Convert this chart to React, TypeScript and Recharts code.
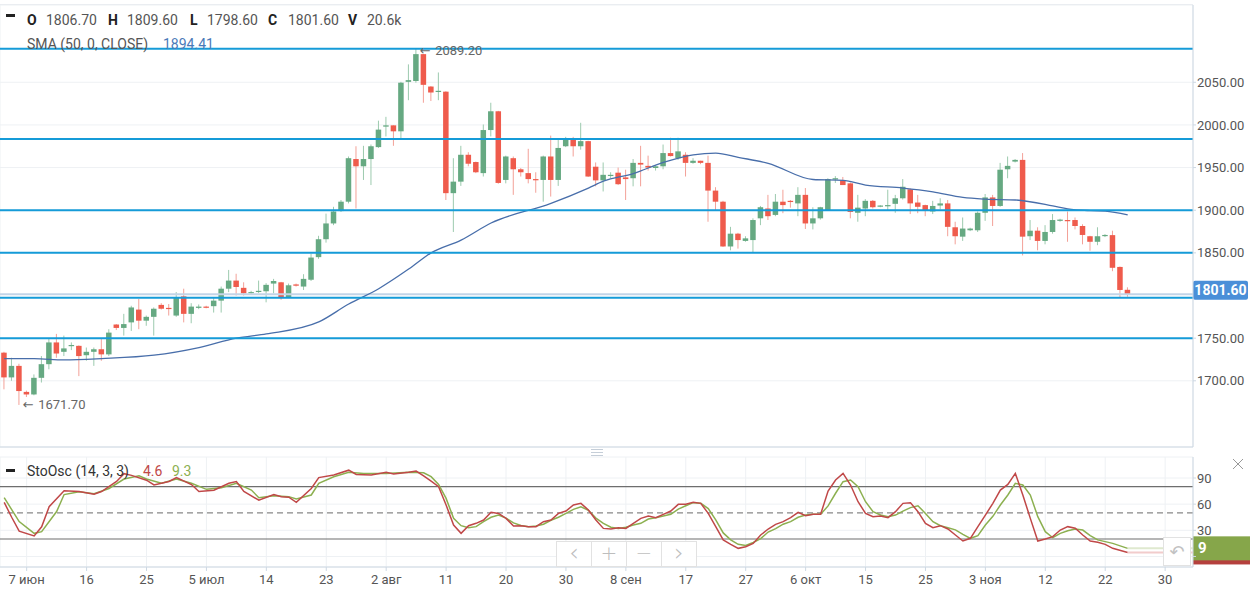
import React from 'react';
import { ComposedChart, Bar, Line, XAxis, YAxis, CartesianGrid, ReferenceLine, ReferenceDot } from 'recharts';

// ---------- data ----------
const opens = [
  1733, 1704, 1717.5, 1687, 1684, 1703.5, 1719.5, 1745, 1734, 1741,
  1741, 1730, 1734, 1737, 1731, 1766, 1762, 1768.5, 1783.5, 1770.5,
  1775, 1789, 1785.5, 1776.5, 1799, 1778.5, 1785.5, 1787, 1787.5, 1794,
  1808, 1817.5, 1809, 1803, 1804.5, 1805, 1814, 1815.5, 1798, 1813,
  1810.5, 1818.5, 1845, 1866, 1884.5, 1899, 1910, 1960, 1951.5, 1960,
  1974, 1998, 1999.5, 1992.5, 2050.5, 2051.5, 2083, 2045, 2039, 2039,
  1920, 1933.5, 1965, 1956.5, 1943.5, 1994, 2016, 1935.5, 1961, 1948,
  1943.5, 1936.5, 1935.5, 1963, 1935.5, 1975, 1984.5, 1975, 1981, 1951,
  1935, 1940.5, 1944, 1938.5, 1937.5, 1955.5, 1952, 1949.5, 1951.5, 1967,
  1961, 1965, 1955.5, 1958, 1955.5, 1923, 1910, 1857.5, 1872.5, 1864,
  1865, 1890.5, 1902, 1894.5, 1910, 1911, 1908, 1918, 1884.5, 1890.5,
  1900, 1936, 1935, 1931.5, 1897, 1902, 1911, 1905, 1905, 1907.5,
  1914, 1924.5, 1909, 1906, 1898.5, 1905.5, 1908, 1880, 1869, 1876.5,
  1876.5, 1897, 1915, 1905, 1948, 1957, 1959, 1869.5, 1876, 1864,
  1874.5, 1887.5, 1888.5, 1888.5, 1881.5, 1869.5, 1863, 1870.5, 1870.8, 1833.5,
  1806.7,
];
const highs = [
  1734, 1727, 1720, 1688.5, 1707.5, 1729, 1749, 1755, 1753, 1745,
  1741.5, 1739, 1739, 1749, 1760.5, 1766.5, 1778.5, 1788, 1796, 1776.5,
  1786, 1791, 1790, 1804, 1808, 1791, 1789.5, 1788, 1798, 1810.5,
  1830, 1825.5, 1815.5, 1805.5, 1817.5, 1814.5, 1819.5, 1816, 1814, 1814,
  1825, 1849, 1870, 1896, 1904, 1912, 1963, 1975, 1975.5, 1977,
  2005, 2009.5, 1999.5, 2050.5, 2071, 2089.2, 2083.5, 2045.5, 2061.5, 2039.5,
  1961, 1975.5, 1968, 1957, 2000.5, 2026, 2016.5, 1964, 1963, 1949.5,
  1972, 1944.5, 1964, 1987.5, 1983.5, 1986, 1986, 2002.5, 1981.5, 1956,
  1956, 1944.5, 1950, 1947.5, 1960, 1975.5, 1964, 1952, 1977, 1985,
  1985, 1968, 1961, 1958, 1964, 1927, 1911, 1880.5, 1873.5, 1869.5,
  1890.5, 1905, 1918, 1919, 1924, 1912, 1927, 1926, 1903.5, 1904,
  1937.5, 1940, 1939, 1932.5, 1918, 1913, 1912, 1906, 1924, 1918,
  1936.5, 1925.5, 1918, 1906.5, 1911, 1914, 1912, 1886.5, 1891.5, 1879.5,
  1898.5, 1919, 1918, 1955.5, 1963, 1960, 1967, 1888.5, 1880, 1882.5,
  1895.5, 1890, 1898.5, 1891.5, 1883.5, 1870, 1880, 1872, 1876, 1834,
  1809.6,
];
const lows = [
  1690, 1700, 1671.7, 1681, 1683, 1698, 1713.5, 1727, 1729, 1736,
  1705.5, 1723.5, 1717.5, 1723.5, 1729, 1759.5, 1753, 1758.5, 1760.5, 1764.5,
  1753, 1783.5, 1776.5, 1775, 1768.5, 1767.5, 1784, 1785, 1780, 1780,
  1804, 1800, 1800, 1801, 1803, 1792, 1802.5, 1795, 1797, 1810.5,
  1806.5, 1817, 1843, 1862, 1882.5, 1898, 1908, 1902, 1935.5, 1929.5,
  1973, 1986.5, 1975.5, 1984.5, 2029, 2049.5, 2026, 2028, 2029, 1912,
  1874.5, 1928.5, 1951.5, 1943.5, 1939.5, 1986.5, 1931, 1931.5, 1918, 1939.5,
  1931.5, 1920.5, 1910, 1916, 1928.5, 1974, 1963, 1971, 1939, 1928,
  1922, 1937.5, 1929.5, 1912, 1928, 1928, 1946.5, 1946.5, 1948, 1963,
  1959, 1939.5, 1954.5, 1954, 1886.5, 1900, 1857, 1853, 1855, 1863,
  1851, 1882.5, 1888.5, 1893, 1896.5, 1903, 1893, 1878, 1877.5, 1889,
  1899.5, 1932, 1929.5, 1890.5, 1886.5, 1893, 1902, 1903.5, 1899.5, 1897,
  1912.5, 1895.5, 1896.5, 1893, 1895.5, 1901, 1869.5, 1860, 1864, 1875.5,
  1874.5, 1887.5, 1881.5, 1904, 1937.5, 1956, 1847, 1865, 1853, 1860,
  1872.5, 1886.5, 1863, 1877.5, 1860, 1852.5, 1859, 1868.5, 1828.5, 1798,
  1798.6,
];
const closes = [
  1704, 1717.5, 1688, 1684, 1703.5, 1719.5, 1745, 1732, 1738, 1742,
  1729, 1734, 1737, 1731, 1756.5, 1762, 1766.5, 1786, 1770.5, 1775,
  1784.5, 1784.5, 1784.5, 1798, 1778.5, 1787, 1787, 1786, 1794, 1808,
  1817.5, 1810, 1802.5, 1804, 1805.5, 1812.5, 1817, 1797, 1812, 1811.5,
  1819.5, 1844.5, 1866, 1884.5, 1898.5, 1910, 1961, 1951.5, 1960, 1975,
  1994.5, 1999.5, 1992.5, 2049.5, 2052.5, 2083, 2047, 2038, 2040, 1920,
  1933.5, 1965, 1954.5, 1944.5, 1994, 2016, 1932, 1963, 1948, 1944.5,
  1936.5, 1935.5, 1963, 1935.5, 1973, 1984.5, 1975, 1981, 1939.5, 1935,
  1941.5, 1941.5, 1930.5, 1936.5, 1955.5, 1953.5, 1950, 1951.5, 1967, 1963.5,
  1969, 1955.5, 1958, 1955.5, 1923, 1910, 1857.5, 1872.5, 1865, 1867,
  1888.5, 1903.5, 1893, 1910, 1906, 1910, 1918, 1884.5, 1890.5, 1903.5,
  1936.5, 1937.5, 1929.5, 1898, 1903, 1911, 1903.5, 1905.5, 1906, 1914,
  1927.5, 1908, 1904, 1899.5, 1905, 1908, 1880.5, 1869.5, 1878.5, 1878.5,
  1897, 1915, 1905, 1947.5, 1952, 1959, 1869, 1876, 1864, 1874.5,
  1888.5, 1889, 1887.5, 1881.5, 1871, 1863, 1869.5, 1871, 1832.5, 1806.5,
  1801.6,
];

// SMA(50) read at candle indices
const smaPoints: [number, number][] = [
  [0, 1726], [4, 1726], [8, 1724.5], [13, 1726], [20, 1730], [26, 1739], [31, 1750], [35, 1755],
  [42, 1769], [46, 1790], [50, 1808], [54, 1831], [57, 1850], [61, 1865], [65, 1885], [73, 1908],
  [78, 1926], [80, 1934], [84, 1943], [88, 1956], [92, 1965], [95, 1967], [98, 1962], [102, 1955],
  [108, 1936], [112, 1935], [115, 1929.5], [120, 1926], [124, 1921.5], [128, 1915], [131, 1913],
  [135, 1912], [140, 1905], [142, 1901.5], [145, 1899.5], [147, 1899], [150, 1894.41],
];

// Stochastic %K (red) and %D (green)
const stochK: [number, number][] = [
  [0, 62], [1, 45], [2, 29], [4, 23.5], [5, 34], [6, 57], [8, 75.5], [10, 74.5], [12, 71.5], [13, 74.5],
  [15, 86], [16, 95], [17, 93], [19, 87.5], [20, 82], [22, 86], [23, 90.5], [25, 82.5], [26, 74.5], [28, 76],
  [30, 84], [31, 86], [32, 74.5], [34, 64.5], [36, 71], [37, 68.5], [38, 68], [39, 62], [41, 78], [42, 90.5],
  [44, 93.5], [46, 99], [47, 94], [49, 93.5], [51, 96.5], [52, 94.5], [54, 96.5], [55, 98], [56, 92.5], [57, 86.5],
  [58, 80], [59, 59], [60, 36], [61, 26.5], [62, 35.3], [63, 38], [64, 41.8], [65, 50.6], [66, 49.4], [67, 43.7],
  [68, 34.9], [69, 35.3], [70, 34.2], [71, 34.2], [72, 39.9], [73, 41.8], [74, 49.4], [75, 52.1], [76, 59], [77, 60.9],
  [78, 53.3], [79, 41.8], [80, 32.2], [81, 31.5], [82, 33], [83, 32.2], [84, 38], [85, 43.7], [86, 46.4], [87, 44.5],
  [88, 48.3], [89, 52.1], [90, 59.8], [91, 59.8], [92, 62.1], [93, 60.9], [94, 49.4], [95, 34.2], [96, 18.9], [97, 13.9],
  [98, 9.3], [99, 11.2], [100, 15], [101, 24.6], [102, 31.5], [103, 36.8], [104, 39.9], [105, 44.5], [106, 50.6], [107, 46.8],
  [108, 48.3], [109, 48.3], [110, 75], [111, 87.7], [112, 95.3], [113, 81.9], [114, 62.8], [115, 49.4], [116, 45.6], [117, 46.4],
  [118, 44.5], [119, 51.4], [120, 60.9], [121, 61.7], [122, 51.4], [123, 38], [124, 33], [125, 35.3], [126, 31.5], [127, 24.6],
  [128, 17.7], [129, 20.8], [130, 34.2], [131, 47.5], [132, 60.9], [133, 76.2], [134, 82.7], [135, 95.3], [136, 70.5], [137, 43.7],
  [138, 17.7], [139, 20], [140, 22.7], [141, 30.3], [142, 34.2], [143, 32.3], [144, 24.6], [145, 17.7], [146, 16.2], [147, 13.9],
  [148, 9.3], [150, 4.6],
];
const stochD: [number, number][] = [
  [0, 67.5], [2, 40], [4, 26.5], [5, 28.5], [7, 51.5], [8, 71], [10, 74.3], [12, 72], [14, 78], [16, 88.8],
  [18, 92.6], [19, 88.8], [21, 83.9], [23, 88.8], [25, 83.9], [27, 77], [29, 78.9], [31, 83.9], [33, 76.2], [34, 67.4],
  [36, 69.7], [38, 68.6], [39, 65.9], [41, 70.5], [42, 83.9], [44, 91.5], [46, 96.5], [48, 95.3], [51, 95.3], [54, 96.5],
  [56, 96], [57, 91.5], [58, 82.7], [59, 66.6], [60, 43.7], [61, 35.3], [62, 33], [63, 34.2], [64, 39.9], [65, 44.9],
  [66, 47.5], [67, 44], [68, 38.5], [69, 35.5], [70, 34.2], [71, 34.9], [72, 37], [73, 41.5], [74, 45], [75, 49.4],
  [76, 54], [77, 57], [78, 53], [79, 44], [80, 38], [81, 33.5], [82, 32], [83, 33.5], [84, 36], [85, 38],
  [86, 42.9], [87, 44.5], [88, 46.5], [89, 48.3], [90, 54.4], [91, 58.2], [92, 61.7], [93, 61], [94, 55], [95, 42],
  [96, 27], [97, 19], [98, 13.9], [99, 12.6], [100, 16], [101, 20.5], [102, 28], [103, 32], [104, 37], [105, 40],
  [106, 45], [107, 47.5], [108, 48.3], [109, 48.3], [110, 58], [111, 72.5], [112, 85.8], [113, 87.7], [114, 80], [115, 62.8],
  [116, 51.4], [117, 47.5], [118, 45.6], [119, 47.5], [120, 52], [121, 56], [122, 58.2], [123, 49.4], [124, 39.9], [125, 35.3],
  [126, 33], [127, 30.5], [128, 25.4], [129, 20.8], [130, 23.8], [131, 36], [132, 46], [133, 59], [134, 70.5], [135, 83.9],
  [136, 82], [137, 70.5], [138, 45.6], [139, 28.4], [140, 21.5], [141, 26.5], [142, 29.5], [143, 31.5], [144, 30.3], [145, 24],
  [146, 19], [147, 17], [148, 15], [150, 9.3],
];

const levelLines = [2089.2, 1983.5, 1900, 1850, 1797.5, 1750];
const priceTicks = [1700, 1750, 1850, 1900, 1950, 2000, 2050];
const stochTicks = [0, 30, 60, 90];
const tickIdx = [3, 11, 19, 27, 35, 43, 51, 59, 67, 75, 83, 91, 99, 107, 115, 123, 131, 139, 147, 155];
const tickLabels = ['7 июн', '16', '25', '5 июл', '14', '23', '2 авг', '11', '20', '30', '8 сен', '17', '27', '6 окт', '15', '25', '3 ноя', '12', '22', '30'];
const volumeText = '20.6k';
const kLast = 4.6;
const dLast = 9.3;

// ---------- style ----------
const FONT = "Roboto, 'Noto Sans', Arial, sans-serif";
const X_MIN = -0.56;
const X_MAX = 158.72;
const UP = '#66a982';
const UP_WICK = '#9ccaae';
const DN = '#ef5b4c';
const DN_WICK = '#f3a198';
const LEVEL = '#159bd8';
const AXIS = '#cdd8e3';
const GRID = '#eef1f4';
const K_COLOR = '#c04848';
const D_COLOR = '#8cb050';

const Candle = (props: any) => {
  const { x, y, width, height, payload } = props;
  if (x == null || y == null || !payload) return null;
  const { o, h, l, c } = payload;
  const cx = x + width / 2;
  const top = Math.min(y, y + height);
  const span = Math.abs(height);
  const py = (v: number) => (h === l ? top : top + ((h - v) / (h - l)) * span);
  const up = c >= o;
  const bt = py(Math.max(o, c));
  const bb = py(Math.min(o, c));
  return (
    <g>
      <line x1={cx} x2={cx} y1={top} y2={top + span} stroke={up ? UP_WICK : DN_WICK} strokeWidth={1} />
      <rect x={cx - 2.75} y={bt} width={5.5} height={Math.max(1.2, bb - bt)} fill={up ? UP : DN} />
    </g>
  );
};

const PriceTag = (props: any) => {
  const vb = props.viewBox;
  if (!vb) return null;
  const x = vb.x + vb.width;
  const y = vb.y - 4;
  return (
    <g>
      <rect x={x} y={y - 9.5} width={55} height={19} rx={2} fill="#4a8fd8" />
      <text x={x + 27.5} y={y} textAnchor="middle" dominantBaseline="central" fill="#fff" fontSize={14} fontWeight={700} fontFamily={FONT}>
        {props.text}
      </text>
    </g>
  );
};

const StochTag = (props: any) => {
  const vb = props.viewBox;
  if (!vb) return null;
  const x = vb.x + vb.width;
  const y = vb.y;
  return (
    <g>
      <rect x={x} y={y - 12} width={57} height={24} fill={props.fill} />
      {props.text ? (
        <text x={x + 5} y={y} dominantBaseline="central" fill="#fff" fontSize={15} fontWeight={700} fontFamily={FONT}>
          {props.text}
        </text>
      ) : null}
    </g>
  );
};

const ExtremeTag = (props: any) => {
  const { cx, cy, text, dy } = props;
  if (cx == null) return null;
  return (
    <g>
      <text x={cx + 3.5} y={cy + (dy || 0)} dominantBaseline="central" fill="#666" fontSize={13} fontFamily="'DejaVu Sans', sans-serif">←</text>
      <text x={cx + 19} y={cy + (dy || 0)} dominantBaseline="central" fill="#666" fontSize={13} fontFamily={FONT}>{text}</text>
    </g>
  );
};

const abs = (left: number, top: number, extra: any = {}) => ({ position: 'absolute' as const, left, top, ...extra });

export default function App() {
  const candles = opens.map((o, i) => ({ i, o, h: highs[i], l: lows[i], c: closes[i] }));
  const sma = smaPoints.map(([i, v]) => ({ i, v }));
  const kData = stochK.map(([i, v]) => ({ i, v }));
  const dData = stochD.map(([i, v]) => ({ i, v }));
  const last = candles[candles.length - 1];
  const lastIdx = last.i;
  const smaLast = smaPoints[smaPoints.length - 1][1];

  const hdrLetter = { fontWeight: 700, color: '#222' };
  const hdrVal = { color: '#555' };
  const row = (top: number) => ({ position: 'absolute' as const, top, lineHeight: '16px', fontSize: 14, whiteSpace: 'nowrap' as const });

  return (
    <div style={{ position: 'absolute', left: 0, top: 0, width: 1250, height: 591, background: '#fff', overflow: 'hidden', fontFamily: FONT }}>
      {/* top border */}
      <div style={abs(0, 4, { width: 1193, height: 1, background: '#e6eaee' })} />

      {/* main price chart */}
      <div style={abs(0, 0)}>
        <ComposedChart width={1250} height={450} data={candles} margin={{ top: 5, right: 0, left: 0, bottom: 2 }}>
          <CartesianGrid stroke={GRID} />
          <XAxis
            type="number"
            dataKey="i"
            domain={[X_MIN, X_MAX]}
            allowDataOverflow
            ticks={tickIdx}
            tick={false}
            tickLine={false}
            axisLine={{ stroke: AXIS }}
            height={1}
          />
          <YAxis
            orientation="right"
            domain={[1622.4, 2140.6]}
            allowDataOverflow
            ticks={priceTicks}
            width={57}
            tickSize={3}
            tickMargin={1}
            tickLine={{ stroke: AXIS }}
            axisLine={{ stroke: AXIS }}
            tick={{ fill: '#555', fontSize: 13, fontFamily: FONT, textAnchor: 'start' }}
            tickFormatter={(v: number) => v.toFixed(2)}
          />
          <ReferenceLine y={last.c} stroke="#c3d4e7" strokeWidth={2} label={<PriceTag text={last.c.toFixed(2)} />} />
          <Bar dataKey={(d: any) => [d.l, d.h]} barSize={7} shape={<Candle />} isAnimationActive={false} />
          <Line data={sma} dataKey="v" type="monotone" stroke="#486eaa" strokeWidth={1.3} dot={false} isAnimationActive={false} />
          {levelLines.map((v) => (
            <ReferenceLine key={v} y={v} stroke={LEVEL} strokeWidth={2} />
          ))}
          <ReferenceDot x={2} y={1671.7} r={0} shape={(p: any) => <ExtremeTag cx={p.cx} cy={p.cy} text="1671.70" />} />
          <ReferenceDot x={55} y={2089.2} r={0} shape={(p: any) => <ExtremeTag cx={p.cx} cy={p.cy} dy={2} text="2089.20" />} />
        </ComposedChart>
      </div>

      {/* divider handle */}
      <svg style={abs(590, 448)} width={14} height={9}>
        <line x1={1} x2={13} y1={1.5} y2={1.5} stroke="#c5ced8" />
        <line x1={1} x2={13} y1={4.5} y2={4.5} stroke="#c5ced8" />
        <line x1={1} x2={13} y1={7.5} y2={7.5} stroke="#c5ced8" />
      </svg>

      {/* stochastic chart */}
      <div style={abs(0, 452)}>
        <ComposedChart width={1250} height={139} data={candles} margin={{ top: 5, right: 0, left: 0, bottom: 0 }}>
          <CartesianGrid stroke={GRID} />
          <XAxis
            type="number"
            dataKey="i"
            domain={[X_MIN, X_MAX]}
            allowDataOverflow
            ticks={tickIdx}
            height={24}
            tickSize={4}
            tickMargin={4}
            tickLine={{ stroke: AXIS }}
            axisLine={{ stroke: AXIS }}
            tick={{ fill: '#555', fontSize: 13, fontFamily: FONT }}
            tickFormatter={(v: number) => tickLabels[tickIdx.indexOf(v)] ?? ''}
          />
          <YAxis
            orientation="right"
            domain={[-12.1, 114.1]}
            allowDataOverflow
            ticks={stochTicks}
            width={57}
            tickSize={3}
            tickMargin={1}
            tickLine={{ stroke: AXIS }}
            axisLine={{ stroke: AXIS }}
            tick={{ fill: '#555', fontSize: 13, fontFamily: FONT, textAnchor: 'start' }}
            tickFormatter={(v: number) => (v === 0 ? '' : String(v))}
          />
          <ReferenceLine y={80} stroke="#6e6e6e" strokeWidth={1.2} />
          <ReferenceLine y={50} stroke="#888" strokeWidth={1.2} strokeDasharray="6 4" />
          <ReferenceLine y={20} stroke="#6e6e6e" strokeWidth={1.2} />
          <Line data={dData} dataKey="v" type="linear" stroke={D_COLOR} strokeWidth={1.5} dot={false} isAnimationActive={false} />
          <Line data={kData} dataKey="v" type="linear" stroke={K_COLOR} strokeWidth={1.5} dot={false} isAnimationActive={false} />
          <ReferenceLine
            segment={[{ x: lastIdx, y: kLast }, { x: X_MAX, y: kLast }]}
            stroke="#f2cccc"
            strokeWidth={2}
            label={<StochTag fill="#b5403d" text="" />}
          />
          <ReferenceLine
            segment={[{ x: lastIdx, y: dLast }, { x: X_MAX, y: dLast }]}
            stroke="#dfe9cf"
            strokeWidth={2}
            label={<StochTag fill="#86a64a" text={String(Math.floor(dLast))} />}
          />
        </ComposedChart>
      </div>

      {/* main header */}
      <div style={abs(6, 14, { width: 9, height: 3, background: '#222' })} />
      <div style={{ ...row(11.5), left: 27, ...hdrLetter }}>O</div>
      <div style={{ ...row(11.5), left: 46, ...hdrVal }}>{last.o.toFixed(2)}</div>
      <div style={{ ...row(11.5), left: 108, ...hdrLetter }}>H</div>
      <div style={{ ...row(11.5), left: 127, ...hdrVal }}>{last.h.toFixed(2)}</div>
      <div style={{ ...row(11.5), left: 190, ...hdrLetter }}>L</div>
      <div style={{ ...row(11.5), left: 207, ...hdrVal }}>{last.l.toFixed(2)}</div>
      <div style={{ ...row(11.5), left: 268, ...hdrLetter }}>C</div>
      <div style={{ ...row(11.5), left: 288, ...hdrVal }}>{last.c.toFixed(2)}</div>
      <div style={{ ...row(11.5), left: 348, ...hdrLetter }}>V</div>
      <div style={{ ...row(11.5), left: 367, ...hdrVal }}>{volumeText}</div>
      <div style={{ ...row(35.5), left: 27, color: '#555' }}>SMA (50, 0, CLOSE)</div>
      <div style={{ ...row(35.5), left: 163, color: '#4a7ab8' }}>{smaLast.toFixed(2)}</div>

      {/* stochastic header */}
      <div style={abs(6, 468.5, { width: 9, height: 3, background: '#222' })} />
      <div style={{ ...row(463), left: 27, color: '#333' }}>StoOsc (14, 3, 3)</div>
      <div style={{ ...row(463), left: 143, color: K_COLOR }}>{kLast.toFixed(1)}</div>
      <div style={{ ...row(463), left: 172, color: D_COLOR }}>{dLast.toFixed(1)}</div>

      {/* close icon */}
      <svg style={abs(1232, 458)} width={12} height={12}>
        <line x1={1} y1={1} x2={11} y2={11} stroke="#999" strokeWidth={1} />
        <line x1={11} y1={1} x2={1} y2={11} stroke="#999" strokeWidth={1} />
      </svg>

      {/* navigation buttons */}
      <div style={abs(556, 541, { display: 'flex', height: 26, border: '1px solid #e2e2e2', background: 'rgba(255,255,255,0.92)', boxSizing: 'border-box' })}>
        {['‹', '+', '−', '›'].map((s, k) => (
          <div
            key={k}
            style={{
              width: 34,
              height: 24,
              borderLeft: k ? '1px solid #e2e2e2' : 'none',
              color: '#bdbdbd',
              fontSize: s === '‹' || s === '›' ? 24 : 20,
              lineHeight: '22px',
              textAlign: 'center',
              fontFamily: "'DejaVu Sans', sans-serif",
              fontWeight: 300,
            }}
          >
            {s}
          </div>
        ))}
      </div>

      {/* reset button */}
      <div style={abs(1163, 537, { width: 28, height: 29, border: '1px solid #e2e2e2', background: '#fff', boxSizing: 'border-box', color: '#c2c2c2', fontSize: 18, lineHeight: '27px', textAlign: 'center', fontFamily: "'DejaVu Sans', sans-serif" })}>
        ↶
      </div>
    </div>
  );
}
